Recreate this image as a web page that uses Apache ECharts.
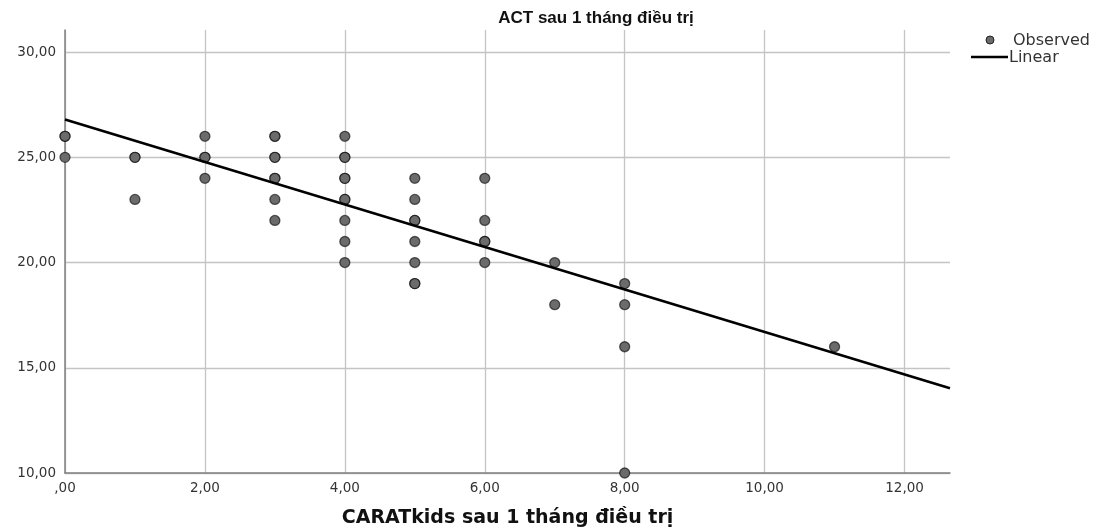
<!DOCTYPE html>
<html>
<head>
<meta charset="utf-8">
<script src="https://cdn.jsdelivr.net/npm/echarts@6/dist/echarts.min.js"></script>
<style>
  html, body { margin: 0; padding: 0; background: #fff; }
  #chart { width: 1101px; height: 531px; }
</style>
</head>
<body>
<div id="chart"></div>
<script>
// CARATkids score (x) and ACT score (y) one month after treatment
const caratScores = [0, 0, 0, 1, 1, 1, 2, 2, 2, 2,
  3, 3, 3, 3, 3, 3, 3, 3,
  4, 4, 4, 4, 4, 4, 4, 4, 4, 4,
  5, 5, 5, 5, 5, 5, 5, 5,
  6, 6, 6, 6, 6, 7, 7, 8, 8, 8, 8, 11];
const actScores = [26, 26, 25, 25, 25, 23, 26, 25, 25, 24,
  26, 26, 25, 25, 24, 24, 23, 22,
  26, 25, 25, 24, 24, 23, 23, 22, 21, 20,
  24, 23, 22, 22, 21, 20, 19, 19,
  24, 22, 21, 21, 20, 20, 18, 19, 18, 16, 10, 16];

// Linear fit: ACT = intercept + slope * CARATkids
const fitIntercept = 26.8;
const fitSlope = -1.01;

const xTicks = [0, 2, 4, 6, 8, 10, 12];
const yTicks = [10, 15, 20, 25, 30];
const xMax = 12.65;
const yMax = 31.05;

const fmt = v => v === 0 ? ',00' : v.toFixed(2).replace('.', ',');
const observed = caratScores.map((x, i) => [x, actScores[i]]);
const fitLine = [0, xMax].map(x => [x, fitIntercept + fitSlope * x]);

const SANS = '"Liberation Sans", Arial, sans-serif';
const WIDE = '"DejaVu Sans", sans-serif';
const GRID = '#c4c4c4';

const chart = echarts.init(document.getElementById('chart'), null, { renderer: 'canvas' });
chart.setOption({
  backgroundColor: '#ffffff',
  animation: false,
  grid: { left: 65, right: 151, top: 30, bottom: 58, containLabel: false, outerBoundsMode: 'none' },
  xAxis: {
    type: 'value', min: 0, max: xMax, interval: 2,
    name: 'CARATkids sau 1 tháng điều trị',
    nameLocation: 'middle', nameGap: 36,
    nameTextStyle: { fontFamily: WIDE, fontWeight: 'bold', fontSize: 19, color: '#111' },
    axisLine: { show: true, lineStyle: { color: '#808080', width: 1.5 } },
    axisTick: { show: false },
    axisLabel: {
      fontFamily: WIDE, fontSize: 13.5, color: '#333', margin: 8,
      showMaxLabel: false,
      formatter: v => xTicks.includes(v) ? fmt(v) : ''
    },
    splitLine: { show: true, lineStyle: { color: xTicks.map(() => GRID).concat(['rgba(0,0,0,0)']), width: 1.3 } }
  },
  yAxis: {
    type: 'value', min: 10, max: yMax, interval: 5,
    axisLine: { show: true, lineStyle: { color: '#808080', width: 1.5 } },
    axisTick: { show: false },
    axisLabel: {
      fontFamily: WIDE, fontSize: 13.5, color: '#333', margin: 9,
      showMaxLabel: false,
      formatter: v => yTicks.includes(v) ? fmt(v) : ''
    },
    splitLine: { show: true, lineStyle: { color: yTicks.map(() => GRID).concat(['rgba(0,0,0,0)']), width: 1.3 } }
  },
  series: [
    {
      name: 'Observed', type: 'scatter', data: observed,
      symbol: 'circle', symbolSize: 10,
      itemStyle: { color: '#6b6b6b', opacity: 1, borderColor: 'rgba(0,0,0,0.6)', borderWidth: 1.3 },
      z: 3
    },
    {
      name: 'Linear', type: 'line', data: fitLine,
      symbol: 'none', lineStyle: { color: '#000', width: 2.6 },
      z: 4
    }
  ],
  graphic: [
    {
      type: 'text', x: 596, y: 18,
      style: { text: 'ACT sau 1 tháng điều trị', font: 'bold 17px ' + SANS, fill: '#111', align: 'center', verticalAlign: 'middle' }
    },
    {
      type: 'circle', shape: { cx: 990, cy: 40, r: 4 },
      style: { fill: '#6b6b6b', stroke: '#222', lineWidth: 1 }
    },
    {
      type: 'text', x: 1013, y: 41,
      style: { text: 'Observed', font: '16px ' + WIDE, fill: '#333', verticalAlign: 'middle' }
    },
    {
      type: 'line', shape: { x1: 971, y1: 57, x2: 1008, y2: 57 },
      style: { stroke: '#000', lineWidth: 2.4 }
    },
    {
      type: 'text', x: 1009, y: 58,
      style: { text: 'Linear', font: '16px ' + WIDE, fill: '#333', verticalAlign: 'middle' }
    }
  ]
});
</script>
</body>
</html>
